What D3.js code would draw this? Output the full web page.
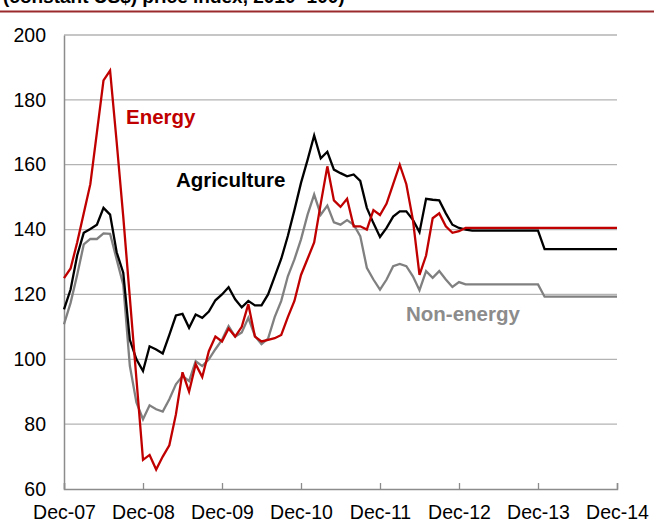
<!DOCTYPE html>
<html>
<head>
<meta charset="utf-8">
<script src="https://cdn.jsdelivr.net/npm/d3@7"></script>
<style>
  html, body { margin: 0; padding: 0; background: #fff; }
  svg { display: block; font-family: "Liberation Sans", Arial, sans-serif; }
</style>
</head>
<body>
<svg id="chart" width="654" height="523"></svg>
<script>
// ---- Data (monthly index, Dec-07 = month 0 ... Dec-14 = month 84) ----
const tickLabels = ["Dec-07", "Dec-08", "Dec-09", "Dec-10", "Dec-11", "Dec-12", "Dec-13", "Dec-14"];
const yTicks = [60, 80, 100, 120, 140, 160, 180, 200];

const energy = [
  125, 128, 136, 145, 154, 170, 186, 189, 167, 144, 119, 94,
  69, 70.5, 66, 70, 73.5, 83, 96, 90, 98.5, 94.5, 102.5, 107,
  105.5, 109.5, 107, 110, 117, 107, 105.5, 106, 106.5, 107.5, 113, 118,
  126, 131, 136, 148, 159.5, 149, 147, 149.5, 141, 141, 140, 146,
  144.5, 148, 154, 160, 154, 143, 126, 132, 143.5, 145, 141, 139,
  139.5, 140.5, 140.5, 140.5, 140.5, 140.5, 140.5, 140.5, 140.5, 140.5, 140.5, 140.5,
  140.5, 140.5, 140.5, 140.5, 140.5, 140.5, 140.5, 140.5, 140.5, 140.5, 140.5, 140.5,
  140.5
];

const agriculture = [
  115.4, 121.5, 132, 139, 140.2, 141.5, 146.7, 144.6, 133, 126.7, 106, 100,
  96.4, 104, 103, 101.8, 107.5, 113.5, 114, 109.7, 113.8, 112.8, 114.7, 118.2,
  120, 122.2, 118.5, 116, 118, 116.6, 116.6, 120, 125.5, 131, 138, 146,
  154.4, 161.5, 169, 162, 164, 158.5, 157.4, 156.4, 157, 155, 146.7, 142,
  137.7, 140.5, 144, 145.6, 145.6, 143, 139.2, 149.5, 149.2, 149, 145, 141.5,
  140.5, 140, 139.7, 139.7, 139.7, 139.7, 139.7, 139.7, 139.7, 139.7, 139.7, 139.7,
  139.7, 134, 134, 134, 134, 134, 134, 134, 134, 134, 134, 134,
  134
];

const nonEnergy = [
  110.8, 117.4, 126, 135.4, 137.1, 137.1, 138.8, 138.7, 130.8, 123, 98, 86.7,
  81.5, 85.8, 84.6, 83.9, 87.7, 92.3, 94.8, 93.3, 99.4, 97.9, 100, 103.1,
  106, 110.2, 107, 108.3, 112.8, 107.2, 104.7, 106.4, 113, 118, 125.6, 130.8,
  137, 144.6, 150.8, 144.6, 147.4, 142.2, 141.5, 142.9, 141.5, 138, 128.2, 124.6,
  121.5, 124.6, 128.7, 129.4, 128.7, 125.6, 121.3, 127.2, 125.1, 127.2, 124.6, 122.3,
  123.8, 123.1, 123.1, 123.1, 123.1, 123.1, 123.1, 123.1, 123.1, 123.1, 123.1, 123.1,
  123.1, 119.3, 119.3, 119.3, 119.3, 119.3, 119.3, 119.3, 119.3, 119.3, 119.3, 119.3,
  119.3
];

const seriesNames = ["Energy", "Agriculture", "Non-energy"];

// ---- Layout ----
const svg = d3.select("#chart");
const W = 654, H = 523;
const plotLeft = 64, plotRight = 617, plotTop = 35, plotBottom = 489;

const x = d3.scaleLinear().domain([0, 84]).range([plotLeft, plotRight]);
const y = d3.scaleLinear().domain([60, 200]).range([plotBottom, plotTop]);

// Header (cut-off title and rule)
svg.append("text")
  .attr("x", 3).attr("y", 3)
  .attr("font-size", 19).attr("font-weight", "bold").attr("fill", "#000")
  .text("(constant US$) price index, 2010=100)");
svg.append("line")
  .attr("x1", 0).attr("x2", W).attr("y1", 11.5).attr("y2", 11.5)
  .attr("stroke", "#9b2a2c").attr("stroke-width", 2);

// Gridlines
svg.append("g")
  .selectAll("line")
  .data(yTicks.filter(d => d > 60))
  .join("line")
  .attr("x1", plotLeft).attr("x2", plotRight)
  .attr("y1", d => y(d)).attr("y2", d => y(d))
  .attr("stroke", "#b3b3b3").attr("stroke-width", 1.3);

// Y axis
const yAxis = svg.append("g")
  .attr("transform", `translate(${plotLeft},0)`)
  .call(d3.axisLeft(y).tickValues(yTicks).tickSize(0).tickPadding(18).tickFormat(d3.format("d")));
yAxis.select(".domain").attr("stroke", "#8c8c8c").attr("stroke-width", 1.5);
yAxis.selectAll("text").attr("font-size", 19.5).attr("fill", "#000")
  .attr("font-family", "'Liberation Sans', Arial, sans-serif");

// X axis
const xAxis = svg.append("g")
  .attr("transform", `translate(0,${plotBottom})`)
  .call(d3.axisBottom(x).tickValues(d3.range(0, 85, 12)).tickSize(-6).tickPadding(16)
    .tickFormat((d, i) => tickLabels[i]));
xAxis.select(".domain").attr("stroke", "#8c8c8c").attr("stroke-width", 1.5);
xAxis.selectAll(".tick line").attr("stroke", "#8c8c8c").attr("stroke-width", 1.3);
xAxis.selectAll("text").attr("font-size", 19.5).attr("fill", "#000")
  .attr("font-family", "'Liberation Sans', Arial, sans-serif");

// Lines
const line = d3.line().x((d, i) => x(i)).y(d => y(d));
const series = [
  { name: seriesNames[2], values: nonEnergy, color: "#808080" },
  { name: seriesNames[1], values: agriculture, color: "#000000" },
  { name: seriesNames[0], values: energy, color: "#c00000" }
];
svg.append("g")
  .selectAll("path")
  .data(series)
  .join("path")
  .attr("d", d => line(d.values))
  .attr("fill", "none")
  .attr("stroke", d => d.color)
  .attr("stroke-width", 2.3)
  .attr("stroke-linejoin", "miter");

// Series labels
const labels = [
  { text: seriesNames[0], color: "#c00000", lx: 126, ly: 123.5 },
  { text: seriesNames[1], color: "#000000", lx: 176, ly: 186.5 },
  { text: seriesNames[2], color: "#8c8c8c", lx: 406, ly: 321 }
];
svg.append("g")
  .selectAll("text")
  .data(labels)
  .join("text")
  .attr("x", d => d.lx).attr("y", d => d.ly)
  .attr("font-size", 20.5).attr("font-weight", "bold")
  .attr("fill", d => d.color)
  .text(d => d.text);
</script>
</body>
</html>
